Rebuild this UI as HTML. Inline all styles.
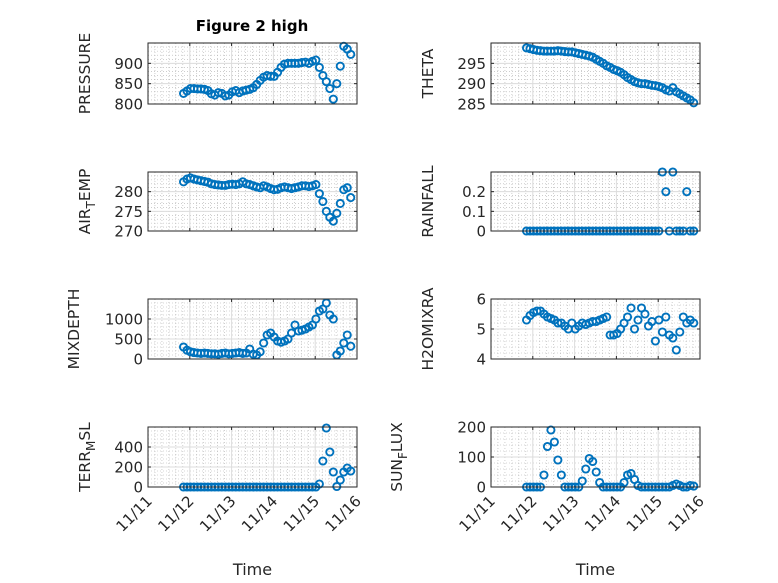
<!DOCTYPE html>
<html><head><meta charset="utf-8"><style>
html,body{margin:0;padding:0;background:#fff;}
svg{display:block;font-family:"DejaVu Sans","Liberation Sans",sans-serif;}
</style></head><body>
<svg id="fig" width="778" height="583" viewBox="0 0 778 583" xmlns="http://www.w3.org/2000/svg">
<rect width="778" height="583" fill="#fff"/>
<text x="252" y="31" text-anchor="middle" font-size="15" font-weight="bold" fill="#000">Figure 2 high</text>
</svg>
<script>
// time (days since 11/11 00:00), 2-hour steps
const times = Array.from({length:49},(_, i)=>0.85 + i/12);
const dayTicks = ['11/11','11/12','11/13','11/14','11/15','11/16'];
const pressure = [826,832,838,838,837,837,836,833,825,822,828,826,820,822,830,833,828,832,834,836,840,848,858,866,870,868,868,878,890,898,900,900,900,900,902,903,900,905,908,890,870,855,838,812,850,893,942,935,922];
const airTemp = [282.5,283.2,283.5,283.2,283,282.8,282.6,282.4,282,281.8,281.7,281.6,281.6,281.8,281.9,281.8,282,282.5,282,281.8,281.5,281.2,281,281.5,281.2,280.8,280.5,280.6,281,281.2,281,280.8,281,281.2,281.5,281.5,281.3,281.5,281.8,279.5,277.5,275,273.5,272.5,274.5,277,280.5,281,278.5];
const theta = [298.8,298.6,298.4,298.2,298.1,298,298,298,298,298.1,298,297.9,297.8,297.8,297.6,297.4,297.2,297,296.8,296.5,296,295.5,295,294.4,294,293.5,293.2,292.8,292.2,291.5,291,290.5,290.2,290,290,289.8,289.6,289.5,289.3,289,288.5,288.2,289,288,287.5,287,286.5,286,285.3];
const rainfall = [0,0,0,0,0,0,0,0,0,0,0,0,0,0,0,0,0,0,0,0,0,0,0,0,0,0,0,0,0,0,0,0,0,0,0,0,0,0,0,0.3,0.2,0,0.3,0,0,0,0.2,0,0];
const mixDepth = [300,220,180,160,150,140,150,140,130,130,120,140,150,130,140,150,160,140,150,250,120,100,180,400,600,650,550,450,420,450,500,650,850,700,720,750,800,850,1000,1200,1250,1400,1100,1000,100,200,400,600,320];
const h2oMix = [5.3,5.45,5.55,5.6,5.6,5.5,5.4,5.35,5.3,5.2,5.2,5.1,5.0,5.2,5.0,5.1,5.2,5.15,5.2,5.25,5.25,5.3,5.35,5.4,4.8,4.8,4.85,5.0,5.2,5.4,5.7,5.0,5.3,5.7,5.5,5.1,5.25,4.6,5.3,4.9,5.4,4.8,4.7,4.3,4.9,5.4,5.2,5.3,5.2];
const terrMsl = [0,0,0,0,0,0,0,0,0,0,0,0,0,0,0,0,0,0,0,0,0,0,0,0,0,0,0,0,0,0,0,0,0,0,0,0,0,0,0,30,260,590,350,150,5,70,150,190,160];
const sunFlux = [0,0,0,0,0,40,135,190,150,90,40,0,0,0,0,0,20,60,95,85,50,15,0,0,0,0,0,0,15,40,45,25,5,0,0,0,0,0,0,0,0,0,5,10,5,0,0,5,3];

const pressureTicks=[800,850,900], airTicks=[270,275,280], thetaTicks=[285,290,295], rainTicks=[0,0.1,0.2];
const mixTicks=[0,500,1000], h2oTicks=[4,5,6], terrTicks=[0,200,400], sunTicks=[0,100,200];

const NS='http://www.w3.org/2000/svg';
const svg=document.getElementById('fig');
function mk(tag,attrs,parent){const e=document.createElementNS(NS,tag);for(const k in attrs)e.setAttribute(k,attrs[k]);(parent||svg).appendChild(e);return e;}

const panels=[
 {name:'pressure',x0:148,x1:357,y0:43,y1:104,lim:[800,950],ticks:pressureTicks,minor:10,data:pressure,label:['PRESSURE'],lx:90,xl:false},
 {name:'theta',x0:491,x1:700,y0:43,y1:104,lim:[285,300],ticks:thetaTicks,minor:1,data:theta,label:['THETA'],lx:433,xl:false},
 {name:'air-temp',x0:148,x1:357,y0:172,y1:231,lim:[270,285],ticks:airTicks,minor:1,data:airTemp,label:['AIR','T','EMP'],lx:90,xl:false},
 {name:'rainfall',x0:491,x1:700,y0:172,y1:231,lim:[0,0.3],ticks:rainTicks,minor:0.02,data:rainfall,label:['RAINFALL'],lx:433,xl:false},
 {name:'mixdepth',x0:148,x1:357,y0:299,y1:359,lim:[0,1500],ticks:mixTicks,minor:100,data:mixDepth,label:['MIXDEPTH'],lx:79,xl:false},
 {name:'h2omixra',x0:491,x1:700,y0:299,y1:359,lim:[4,6],ticks:h2oTicks,minor:0.2,data:h2oMix,label:['H2OMIXRA'],lx:433,xl:false},
 {name:'terr-msl',x0:148,x1:357,y0:427,y1:487,lim:[0,600],ticks:terrTicks,minor:40,data:terrMsl,label:['TERR','M','SL'],lx:90,xl:true},
 {name:'sun-flux',x0:491,x1:700,y0:427,y1:487,lim:[0,200],ticks:sunTicks,minor:20,data:sunFlux,label:['SUN','F','LUX'],lx:402,xl:true}
];

panels.forEach(p=>{
 const g=mk('g',{});
 
 
 const xs=t=>p.x0+(t-0)/5*(p.x1-p.x0);
 const ys=v=>p.y1-(v-p.lim[0])/(p.lim[1]-p.lim[0])*(p.y1-p.y0);
 for(let d=0;d<5;d++)for(let k=1;k<6;k++){const x=xs(d+k/6);
  mk('line',{x1:x,x2:x,y1:p.y0,y2:p.y1,stroke:'#b0b0b0','stroke-width':0.6,'stroke-dasharray':'1,2'},g);}
 for(let v=p.lim[0]+p.minor;v<p.lim[1]-1e-9;v+=p.minor){const y=ys(v);
  mk('line',{x1:p.x0,x2:p.x1,y1:y,y2:y,stroke:'#b0b0b0','stroke-width':0.6,'stroke-dasharray':'1,2'},g);}
 for(let d=1;d<5;d++){const x=xs(d);mk('line',{x1:x,x2:x,y1:p.y0,y2:p.y1,stroke:'#dcdcdc','stroke-width':1},g);}
 p.ticks.forEach(v=>{const y=ys(v);mk('line',{x1:p.x0,x2:p.x1,y1:y,y2:y,stroke:'#dcdcdc','stroke-width':1},g);});
 for(let d=0;d<=5;d++){const x=xs(d);
  mk('line',{x1:x,x2:x,y1:p.y1,y2:p.y1-3,stroke:'#262626'},g);
  mk('line',{x1:x,x2:x,y1:p.y0,y2:p.y0+3,stroke:'#262626'},g);}
 p.ticks.forEach(v=>{const y=ys(v);
  mk('line',{x1:p.x0,x2:p.x0+3,y1:y,y2:y,stroke:'#262626'},g);
  mk('line',{x1:p.x1,x2:p.x1-3,y1:y,y2:y,stroke:'#262626'},g);
  const t=mk('text',{x:p.x0-5,y:y+5.5,'text-anchor':'end','font-size':15,fill:'#262626'},g);
  
  
  t.textContent=String(v);});
 p.data.forEach((v,i)=>{
  const c=mk('circle',{cx:xs(times[i]),cy:ys(v),r:3.6,fill:'none',stroke:'#0072BD','stroke-width':1.9},g);
  
  
 });
 mk('rect',{x:p.x0,y:p.y0,width:p.x1-p.x0,height:p.y1-p.y0,fill:'none',stroke:'#262626','stroke-width':1},g);
 const cy=(p.y0+p.y1)/2;
 const lab=mk('text',{x:p.lx,y:cy,'text-anchor':'middle','font-size':15.5,fill:'#262626',transform:'rotate(-90 '+p.lx+' '+cy+')'},g);
 
 
 if(p.label.length===1){lab.textContent=p.label[0];}
 else{
  const a=mk('tspan',{},lab);a.textContent=p.label[0];
  const b=mk('tspan',{dy:5,'font-size':12},lab);b.textContent=p.label[1];
  const c=mk('tspan',{dy:-5},lab);c.textContent=p.label[2];
 }
 if(p.xl){
  dayTicks.forEach((s,d)=>{const x=xs(d)+5,y=p.y1+15;
   const t=mk('text',{x:x,y:y,'text-anchor':'end','font-size':15,fill:'#262626',transform:'rotate(-45 '+x+' '+y+')'},g);
   
   
   t.textContent=s;});
  const xt=mk('text',{x:(p.x0+p.x1)/2,y:575,'text-anchor':'middle','font-size':16,fill:'#262626'},g);
  
  
  xt.textContent='Time';
 }
});
</script>
</body></html>
